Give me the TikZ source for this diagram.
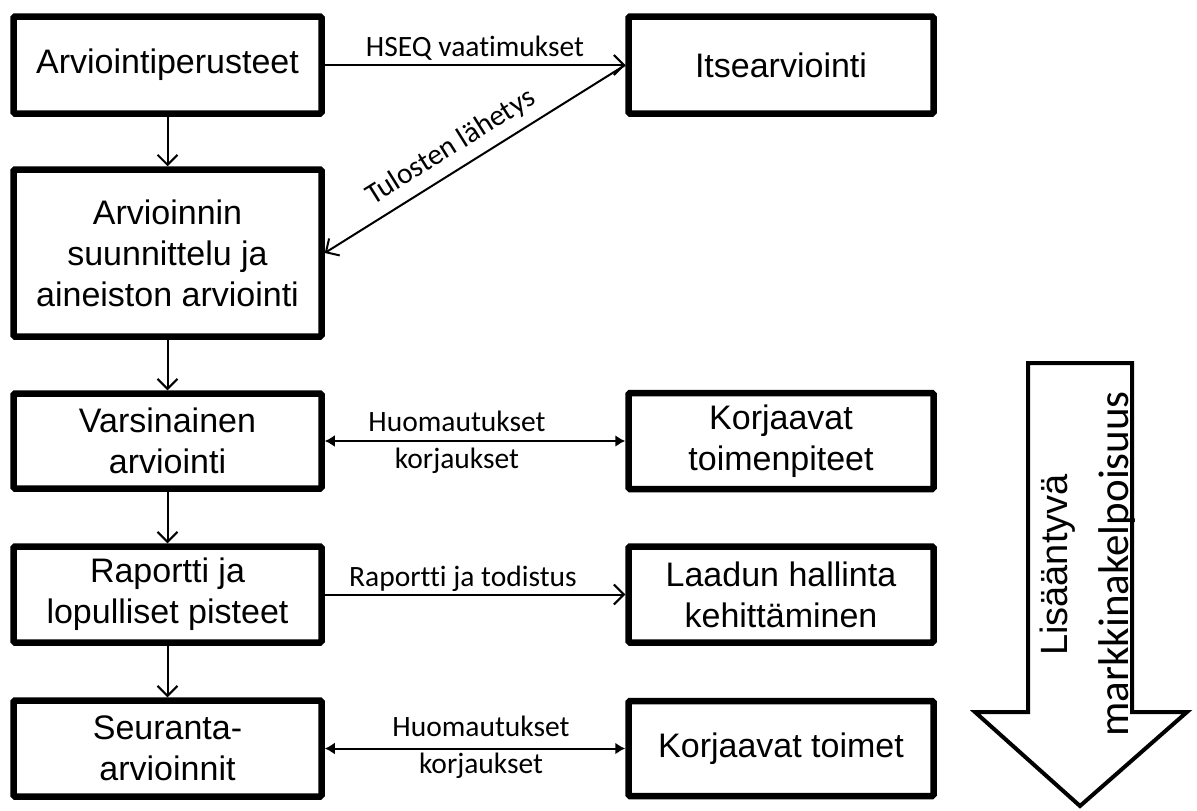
\documentclass[tikz,border=0pt]{standalone}
\usepackage{fontspec}
\setmainfont{Liberation Sans}
\newfontfamily\calib[Ligatures=NoCommon]{Carlito}
\usetikzlibrary{arrows.meta}
\begin{document}
\begin{tikzpicture}[x=1pt,y=-1pt,
  box/.style={draw, line width=6.5pt, rectangle, rounded corners=1.5pt, align=center,
    font=\fontsize{34}{41}\selectfont, inner sep=0pt, text=black},
  lbox/.style={box, minimum width=308pt},
  rbox/.style={box, minimum width=305pt},
  conn/.style={line width=2pt},
  opena/.style={conn, -{Straight Barb[length=10pt,width=20pt,line width=2pt]}},
  dbla/.style={conn, {Latex[length=10pt,width=12pt]}-{Latex[length=10pt,width=12pt]}},
  lbl/.style={font=\calib\fontsize{29.5}{32}\selectfont, inner sep=1pt, text=black}
]
\useasboundingbox (0,0) rectangle (1197,811);

% left column
\node[lbox, minimum height=97pt]  (B1) at (167.5,65)    {Arviointiperusteet};
\node[lbox, minimum height=167pt] (B2) at (167.5,253)   {Arvioinnin\\suunnittelu ja\\aineiston arviointi};
\node[lbox, minimum height=95pt]  (B3) at (167.5,441)   {Varsinainen\\arviointi};
\node[lbox, minimum height=96pt]  (B4) at (167.5,594.5) {Raportti ja\\lopulliset pisteet};
\node[lbox, minimum height=96pt]  (B5) at (167.5,748.5) {Seuranta-\\arvioinnit};

% right column
\node[rbox, minimum height=97pt] (R1) at (781,65)    {Itsearviointi};
\node[rbox, minimum height=96pt] (R3) at (781,441)   {Korjaavat\\toimenpiteet};
\node[rbox, minimum height=96pt] (R4) at (781,594.5) {Laadun hallinta\\kehittäminen};
\node[rbox, minimum height=95pt] (R5) at (781,748.5) {Korjaavat toimet};

% vertical flow
\draw[opena] (B1) -- (B2);
\draw[opena] (B2) -- (B3);
\draw[opena] (B3) -- (B4);
\draw[opena] (B4) -- (B5);

% horizontal connectors
\draw[opena] (B1) -- node[lbl, above=3pt] {HSEQ vaatimukset} (R1);
\draw[opena] (R1.west) -- node[lbl, sloped, above=8pt, pos=0.54] {Tulosten lähetys} (B2.east);
\draw[dbla] (B3) -- node[lbl, above=7pt, pos=0.44] {Huomautukset}
                    node[lbl, below=5pt, pos=0.44] {korjaukset} (R3);
\draw[opena] (B4) -- node[lbl, above=1pt, pos=0.46] {Raportti ja todistus} (R4);
\draw[dbla] (B5) -- node[lbl, above=10pt, pos=0.52] {Huomautukset}
                    node[lbl, below=3pt, pos=0.52] {korjaukset} (R5);

% big arrow
\draw[line width=4pt, line join=miter, fill=white]
  (1028,363) -- (1132,363) -- (1132,712) -- (1187,712) -- (1080,806) -- (975,712) -- (1028,712) -- cycle;
\node[rotate=90, anchor=base, inner sep=0pt, font=\fontsize{38}{40}\selectfont] (T1) at (1067,565) {Lisääntyvä};
\node[rotate=90, anchor=base, inner sep=0pt, font=\calib\fontsize{43}{45}\selectfont] (T2) at (1128,564) {markkinakelpoisuus};
\end{tikzpicture}
\end{document}
